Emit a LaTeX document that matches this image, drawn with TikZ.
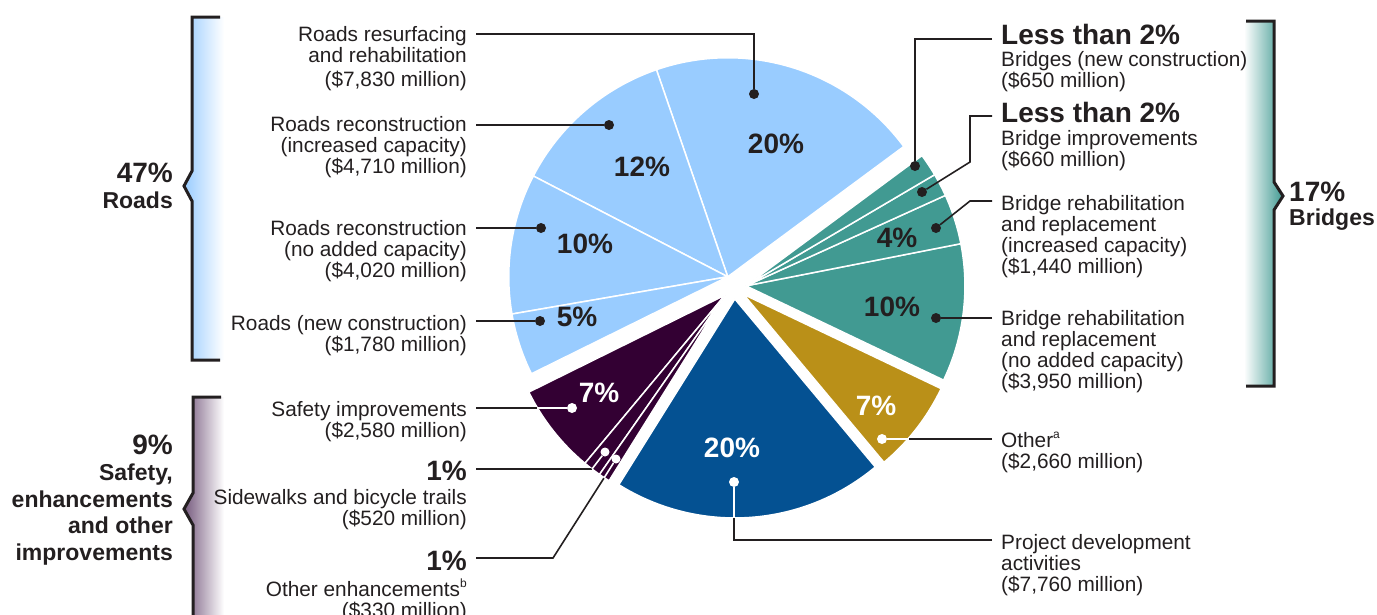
\documentclass[tikz,border=0pt]{standalone}
\usepackage{fontspec}
\setmainfont{Liberation Sans}
\usepackage{xcolor}
\usepackage{tikz}
\usetikzlibrary{positioning,calc}

\definecolor{roadblue}{HTML}{99CCFF}
\definecolor{bridgeteal}{HTML}{419A92}
\definecolor{othergold}{HTML}{BA9018}
\definecolor{projblue}{HTML}{045192}
\definecolor{safepurple}{HTML}{330033}
\definecolor{brktpurple}{HTML}{765A7E}
\definecolor{txt}{HTML}{231F20}

\tikzset{
  lbl/.style={font=\fontsize{20.8}{21}\selectfont, text=txt, inner sep=0pt},
  lblr/.style={lbl, align=right, anchor=north east},
  lbll/.style={lbl, align=left, anchor=north west},
  big/.style={font=\fontsize{28}{30}\selectfont\bfseries, text=txt, inner sep=0pt},
  grp/.style={font=\fontsize{23}{26.4}\selectfont\bfseries, text=txt, inner sep=0pt},
  pct/.style={big, anchor=center},
  dot/.style={circle, fill=txt, inner sep=0pt, minimum size=10pt},
  wdot/.style={dot, fill=white},
  lead/.style={draw=txt, line width=1.6pt},
  wlead/.style={draw=white, line width=1.6pt},
  brkt/.style={draw=txt, line width=3pt, line join=miter},
}

% one exploded slice: group direction, start, end, colour
\newcommand{\pieslice}[4]{%
  \filldraw[fill=#4, draw=white, line width=1.5pt, line join=round]
    (#1:12) -- ++(#2:219) arc[start angle=#2, end angle=#3, radius=219] -- cycle;}
\newcommand{\supmark}[1]{\smash{\raisebox{0.42em}{\fontsize{12}{12}\selectfont #1}}}

\begin{document}
\begin{tikzpicture}[x=1pt,y=-1pt]
  \useasboundingbox (0,0) rectangle (1377,614);

  % brackets
  \shade[left color=roadblue, right color=white]
    (192,17) -- (224,17) -- (224,360) -- (192,360) -- (192,201) -- (184,186) -- (192,171) -- cycle;
  \draw[brkt] (220,17) -- (192,17) -- (192,171) -- (184,186) -- (192,201) -- (192,360) -- (220,360);
  \shade[left color=white, right color=bridgeteal]
    (1244,21) -- (1274,21) -- (1274,182) -- (1283,196) -- (1274,210) -- (1274,386) -- (1244,386) -- cycle;
  \draw[brkt] (1246,21) -- (1274,21) -- (1274,182) -- (1283,196) -- (1274,210) -- (1274,386) -- (1246,386);
  \shade[left color=brktpurple, right color=white]
    (193,397) -- (224,397) -- (224,620) -- (193,620) -- (193,525) -- (184,509) -- (193,493) -- cycle;
  \draw[brkt] (221,397) -- (193,397) -- (193,493) -- (184,509) -- (193,525) -- (193,620);

  % group labels
  \node[big, anchor=north east] (rdP) at (173,163) {47\%};
  \node[grp, anchor=north east] (rdT) at (173,192) {Roads};
  \node[big, anchor=north west] (bgP) at (1289,182) {17\%};
  \node[grp, anchor=north west] (bgT) at (1289,209) {Bridges};
  \node[big, anchor=north east] (sgP) at (173,435) {9\%};
  \node[grp, anchor=north east, align=right] (sgT) at (173,464) {Safety,\\enhancements\\and other\\improvements};

  % pie
  \begin{scope}[shift={(734,287)}, yscale=-1]
    \foreach \m/\a/\b/\c in {121.4/36.5/109.0/roadblue, 121.4/109.0/152.6/roadblue,
        121.4/152.6/189.8/roadblue, 121.4/189.8/206.3/roadblue,
        222.2/206.3/230.2/safepurple, 222.2/230.2/235.0/safepurple, 222.2/235.0/238.0/safepurple,
        274.0/238.0/309.9/projblue, 322.2/309.9/334.5/othergold,
        5.5/334.5/371.1/bridgeteal, 5.5/371.1/384.4/bridgeteal,
        5.5/384.4/390.5/bridgeteal, 5.5/390.5/396.5/bridgeteal}
      { \pieslice{\m}{\a}{\b}{\c} }
  \end{scope}

  % percentages in the slices
  \node[pct] (p1) at (776,144) {20\%};
  \node[pct] (p2) at (642,167) {12\%};
  \node[pct] (p3) at (585,244) {10\%};
  \node[pct] (p4) at (577,317) {5\%};
  \node[pct] (p5) at (897,238) {4\%};
  \node[pct] (p6) at (892,307) {10\%};
  \node[pct, text=white] (p7) at (876,406) {7\%};
  \node[pct, text=white] (p8) at (732,448) {20\%};
  \node[pct, text=white] (p9) at (599,393) {7\%};

  % labels left
  \node[lblr] (rsT) at (467,26) {Roads resurfacing\\and rehabilitation\\[3pt](\$7,830 million)};
  \node[lblr] (riT) at (467,116) {Roads reconstruction\\(increased capacity)\\(\$4,710 million)};
  \node[lblr] (rnT) at (467,220) {Roads reconstruction\\(no added capacity)\\(\$4,020 million)};
  \node[lblr] (rcT) at (467,315) {Roads (new construction)\\(\$1,780 million)};
  \node[lblr] (sfT) at (467,401) {Safety improvements\\(\$2,580 million)};
  \node[big, anchor=north east] (swP) at (467,461) {1\%};
  \node[lblr] (swT) at (467,489) {Sidewalks and bicycle trails\\(\$520 million)};
  \node[big, anchor=north east] (oeP) at (467,551) {1\%};
  \node[lblr] (oeT) at (467,581) {Other enhancements\supmark{b}\\(\$330 million)};

  % labels right
  \node[big, anchor=north west] (bnP) at (1001,24) {Less than 2\%};
  \node[lbll] (bnT) at (1001,51) {Bridges (new construction)\\(\$650 million)};
  \node[big, anchor=north west] (biP) at (1001,102) {Less than 2\%};
  \node[lbll] (biT) at (1001,130) {Bridge improvements\\(\$660 million)};
  \node[lbll] (brT) at (1001,195) {Bridge rehabilitation\\and replacement\\(increased capacity)\\(\$1,440 million)};
  \node[lbll] (bxT) at (1001,310) {Bridge rehabilitation\\and replacement\\(no added capacity)\\(\$3,950 million)};
  \node[lbll] (otT) at (1001,432) {Other\supmark{a}\\(\$2,660 million)};
  \node[lbll] (pdT) at (1001,534) {Project development\\activities\\(\$7,760 million)};

  % dots
  \node[dot] (rsD) at (754,94) {};
  \node[dot] (riD) at (609,125) {};
  \node[dot] (rnD) at (541,228) {};
  \node[dot] (rcD) at (540,321) {};
  \node[dot] (bnD) at (915,166) {};
  \node[dot] (biD) at (922,192) {};
  \node[dot] (brD) at (936,228) {};
  \node[dot] (bxD) at (936,318) {};
  \node[wdot] (otD) at (882,439) {};
  \node[wdot] (pdD) at (734,482) {};
  \node[wdot] (sfD) at (572,408) {};
  \node[wdot, minimum size=9pt] (swD) at (605,452) {};
  \node[wdot, minimum size=9pt] (oeD) at (616,459) {};

  % leader ends and bends
  \coordinate (rsL) at (476,34);
  \coordinate (riL) at (476,125);
  \coordinate (rnL) at (476,228);
  \coordinate (rcL) at (476,321);
  \coordinate (sfL) at (476,408);  \coordinate (sfE) at (537,408);
  \coordinate (swL) at (476,469);  \coordinate (swE) at (592,469);
  \coordinate (oeL) at (476,558);  \coordinate (oeK) at (553,558);  \coordinate (oeE) at (604,478);
  \coordinate (bnL) at (992,39);
  \coordinate (biL) at (992,116);  \coordinate (biK) at (970,162);
  \coordinate (brL) at (992,201);  \coordinate (brK) at (970,201);
  \coordinate (bxL) at (992,318);
  \coordinate (otL) at (992,439);  \coordinate (otE) at (909,439);
  \coordinate (pdL) at (992,540);  \coordinate (pdE) at (734,518);

  % leaders
  \draw[lead] (rsL) -| (rsD);
  \draw[lead] (riL) -- (riD);
  \draw[lead] (rnL) -- (rnD);
  \draw[lead] (rcL) -- (rcD);
  \draw[lead] (bnL) -| (bnD);
  \draw[lead] (biL) -| (biK) -- (biD);
  \draw[lead] (brL) -- (brK) -- (brD);
  \draw[lead] (bxL) -- (bxD);
  \draw[lead] (otL) -- (otE);  \draw[wlead] (otE) -- (otD);
  \draw[lead] (pdL) -| (pdE);  \draw[wlead] (pdE) -- (pdD);
  \draw[lead] (sfL) -- (sfE);  \draw[wlead] (sfE) -- (sfD);
  \draw[lead] (swL) -- (swE);  \draw[wlead] (swE) -- (swD);
  \draw[lead] (oeL) -- (oeK) -- (oeE);  \draw[wlead] (oeE) -- (oeD);
\end{tikzpicture}
\end{document}
